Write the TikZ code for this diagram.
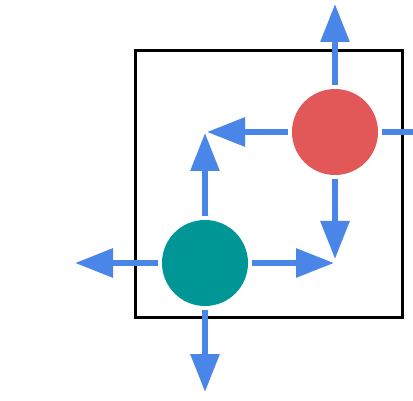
\documentclass[tikz,border=0pt]{standalone}
\usetikzlibrary{arrows.meta}
\definecolor{arrblue}{RGB}{74,134,232}
\definecolor{dotred}{RGB}{226,88,88}
\definecolor{dotteal}{RGB}{0,150,150}
\tikzset{
  dot/.style={circle, minimum size=86pt, inner sep=0pt, outer sep=4pt},
  mover/.style={draw=arrblue, line width=6pt, -{Triangle[length=38pt,width=28pt]}},
  frame/.style={draw=black, line width=3pt}
}
\begin{document}
\begin{tikzpicture}[x=1pt,y=-1pt]
\clip (0,0) rectangle (413,401);
\fill[white] (0,0) rectangle (413,401);
\node[frame, minimum width=267pt, minimum height=267pt, inner sep=0pt, anchor=north west] (box) at (134,49) {};
\node[dot, fill=dotred] (red) at (335,132) {};
\node[dot, fill=dotteal] (teal) at (205,263) {};
\coordinate (rUp) at (335,4);
\coordinate (rLeft) at (207,132);
\coordinate (rDown) at (335,259);
\coordinate (rRight) at (463,132);
\coordinate (tUp) at (205,133);
\coordinate (tLeft) at (75,263);
\coordinate (tRight) at (334,263);
\coordinate (tDown) at (205,392);
\draw[mover] (red) -- (rUp);
\draw[mover] (red) -- (rLeft);
\draw[mover] (red) -- (rDown);
\draw[mover] (red) -- (rRight);
\draw[mover] (teal) -- (tUp);
\draw[mover] (teal) -- (tLeft);
\draw[mover] (teal) -- (tRight);
\draw[mover] (teal) -- (tDown);
\end{tikzpicture}
\end{document}
